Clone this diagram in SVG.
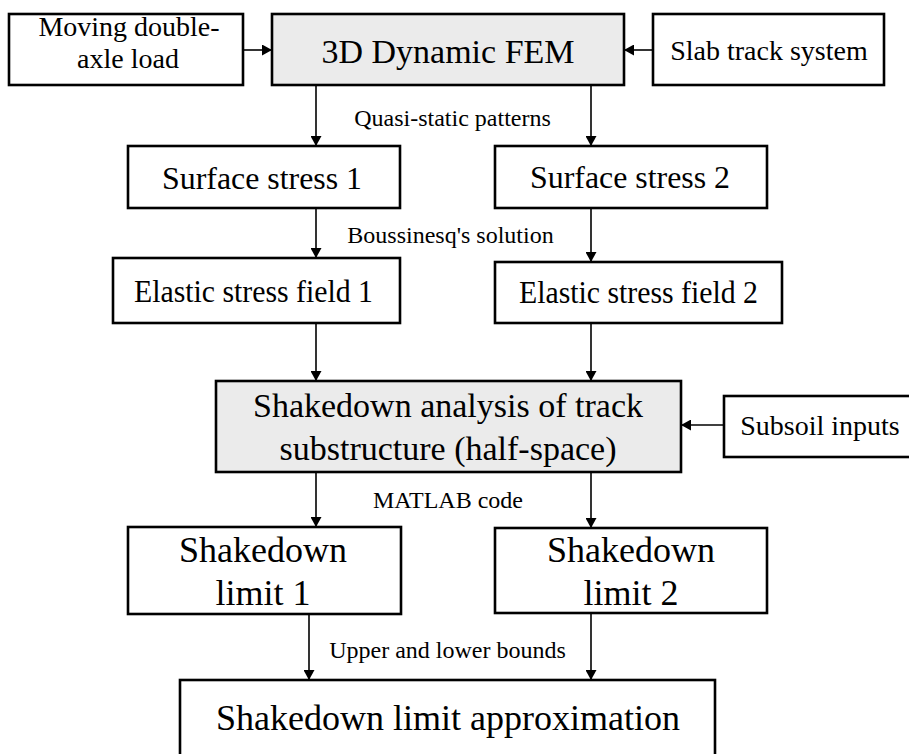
<svg xmlns="http://www.w3.org/2000/svg" width="909" height="754" viewBox="0 0 909 754">
<style>
.box{fill:#ffffff;stroke:#000;stroke-width:2.6}
.grey{fill:#ebebeb;stroke:#000;stroke-width:2.6}
text{font-family:"Liberation Serif","Times New Roman",serif;fill:#000;text-anchor:middle}
.lbl{font-size:24px}
.conn{stroke:#000;stroke-width:1.6;fill:none;marker-end:url(#ah)}
</style>
<defs>
<marker id="ah" markerWidth="11" markerHeight="11" refX="10" refY="5.5" orient="auto" markerUnits="userSpaceOnUse">
<path d="M0,0 L10,5.5 L0,11 z" fill="#000"/>
</marker>
</defs>
<rect width="909" height="754" fill="#fff"/>
<g id="connectors">
<line class="conn" x1="243" y1="50" x2="272" y2="50"/>
<line class="conn" x1="653" y1="50" x2="624" y2="50"/>
<line class="conn" x1="316" y1="85" x2="316" y2="146"/>
<line class="conn" x1="591" y1="85" x2="591" y2="146"/>
<line class="conn" x1="316" y1="208" x2="316" y2="258"/>
<line class="conn" x1="591" y1="208" x2="591" y2="262"/>
<line class="conn" x1="316" y1="323" x2="316" y2="381"/>
<line class="conn" x1="591" y1="323" x2="591" y2="381"/>
<line class="conn" x1="724" y1="425" x2="681" y2="425"/>
<line class="conn" x1="316" y1="472" x2="316" y2="527"/>
<line class="conn" x1="591" y1="472" x2="591" y2="528"/>
<line class="conn" x1="309" y1="614" x2="309" y2="680"/>
<line class="conn" x1="591" y1="613" x2="591" y2="680"/>
<text class="lbl" x="452.5" y="126">Quasi-static patterns</text>
<text class="lbl" x="450.5" y="243">Boussinesq's solution</text>
<text class="lbl" x="448" y="508">MATLAB code</text>
<text class="lbl" x="447.5" y="658">Upper and lower bounds</text>
</g>
<g id="moving">
<rect class="box" x="9" y="14" width="234" height="71"/>
<text x="129" y="36" font-size="28">Moving double-</text>
<text x="128" y="68" font-size="28">axle load</text>
</g>
<g id="fem">
<rect class="grey" x="272" y="14" width="352" height="71"/>
<text x="448" y="63" font-size="34">3D Dynamic FEM</text>
</g>
<g id="slab">
<rect class="box" x="653" y="14" width="231" height="71"/>
<text x="769" y="60" font-size="28">Slab track system</text>
</g>
<g id="surface1">
<rect class="box" x="128" y="146" width="272" height="62"/>
<text x="262" y="189" font-size="32" textLength="200" lengthAdjust="spacingAndGlyphs">Surface stress 1</text>
</g>
<g id="surface2">
<rect class="box" x="495" y="146" width="272" height="62"/>
<text x="630" y="188" font-size="32" textLength="200" lengthAdjust="spacingAndGlyphs">Surface stress 2</text>
</g>
<g id="elastic1">
<rect class="box" x="113" y="258" width="287" height="65"/>
<text x="253.5" y="302" font-size="31" textLength="239" lengthAdjust="spacingAndGlyphs">Elastic stress field 1</text>
</g>
<g id="elastic2">
<rect class="box" x="495" y="262" width="287" height="61"/>
<text x="638.5" y="303" font-size="31" textLength="239" lengthAdjust="spacingAndGlyphs">Elastic stress field 2</text>
</g>
<g id="shakedown-analysis">
<rect class="grey" x="216" y="381" width="465" height="91"/>
<text x="448" y="417" font-size="34">Shakedown analysis of track</text>
<text x="448" y="460" font-size="34">substructure (half-space)</text>
</g>
<g id="subsoil">
<rect class="box" x="724" y="396" width="192" height="61"/>
<text x="820" y="435" font-size="28">Subsoil inputs</text>
</g>
<g id="limit1">
<rect class="box" x="128" y="527" width="273" height="87"/>
<text x="263" y="562" font-size="36">Shakedown</text>
<text x="263" y="605" font-size="36">limit 1</text>
</g>
<g id="limit2">
<rect class="box" x="495" y="528" width="272" height="85"/>
<text x="631" y="562" font-size="36">Shakedown</text>
<text x="631" y="605" font-size="36">limit 2</text>
</g>
<g id="approximation">
<rect class="box" x="180" y="680" width="535" height="84"/>
<text x="448" y="730" font-size="36">Shakedown limit approximation</text>
</g>
</svg>
